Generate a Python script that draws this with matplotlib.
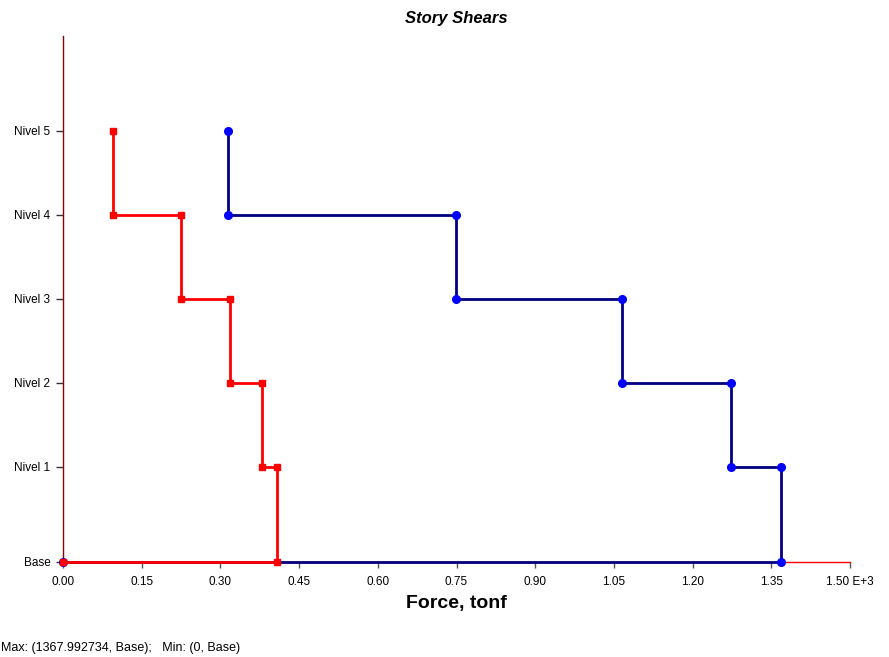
import matplotlib
matplotlib.use("Agg")
import matplotlib.pyplot as plt

plt.rcParams['font.family'] = ['Liberation Sans', 'DejaVu Sans']

# Story labels and elevations (m)
stories = ["Base", "Nivel 1", "Nivel 2", "Nivel 3", "Nivel 4", "Nivel 5"]
elev = [0.0, 3.4, 6.4, 9.4, 12.4, 15.4]

# Story shears (tonf x 1E+3), value for each story, Nivel 5 down to Nivel 1
red_shear = [0.095, 0.225, 0.318, 0.379, 0.408]
blue_shear = [0.3145, 0.749, 1.066, 1.273, 1.368]

xticks = [0.00, 0.15, 0.30, 0.45, 0.60, 0.75, 0.90, 1.05, 1.20, 1.35, 1.50]
xticklabels = ["0.00", "0.15", "0.30", "0.45", "0.60", "0.75", "0.90", "1.05",
               "1.20", "1.35", "1.50 E+3"]


def step_path(vals):
    xs, ys = [], []
    top_elevs = elev[::-1]
    for i, v in enumerate(vals):
        xs += [v, v]
        ys += [top_elevs[i], top_elevs[i + 1]]
    xs.append(0.0)
    ys.append(elev[0])
    return xs, ys


W, H = 889, 657
fig = plt.figure(figsize=(W / 100, H / 100), dpi=100)
ax = fig.add_axes([63 / W, (H - 562) / H, (850 - 63) / W, (562 - 36) / H])

bx, by = step_path(blue_shear)
rx, ry = step_path(red_shear)
ax.plot(bx, by, color="#000080", lw=2, marker="o", ms=5.5,
        mfc="#0000FF", mec="#0000FF", zorder=3, clip_on=False)
ax.plot(rx, ry, color="#FF0000", lw=2, marker="s", ms=5,
        mfc="#FF0000", mec="#FF0000", zorder=4, clip_on=False)

ax.set_xlim(0, 1.5)
ax.set_ylim(0, 526 / 28)

ax.set_xticks(xticks)
ax.set_xticklabels(xticklabels, fontsize=8.5)
ax.set_yticks(elev)
ax.set_yticklabels(stories, fontsize=8.5)
ax.tick_params(axis="x", direction="out", length=4, width=1, color="#555555", pad=6)
ax.tick_params(axis="y", direction="out", length=5, width=1, color="#333333", pad=4)

for s in ["top", "right"]:
    ax.spines[s].set_visible(False)
ax.spines["left"].set_color("#8B0000")
ax.spines["left"].set_linewidth(1)
ax.spines["bottom"].set_color("#FF0000")
ax.spines["bottom"].set_linewidth(1)

ax.set_xlabel("Force, tonf", fontsize=14, fontweight="bold", labelpad=5)
fig.text(456 / W, 1 - 18 / H, "Story Shears", fontsize=12, fontweight="bold",
         style="italic", ha="center", va="center")
fig.text(1 / W, 1 - 648 / H, "Max: (1367.992734, Base);   Min: (0, Base)",
         fontsize=9, ha="left", va="center")

fig.savefig("out.png", dpi=100)
